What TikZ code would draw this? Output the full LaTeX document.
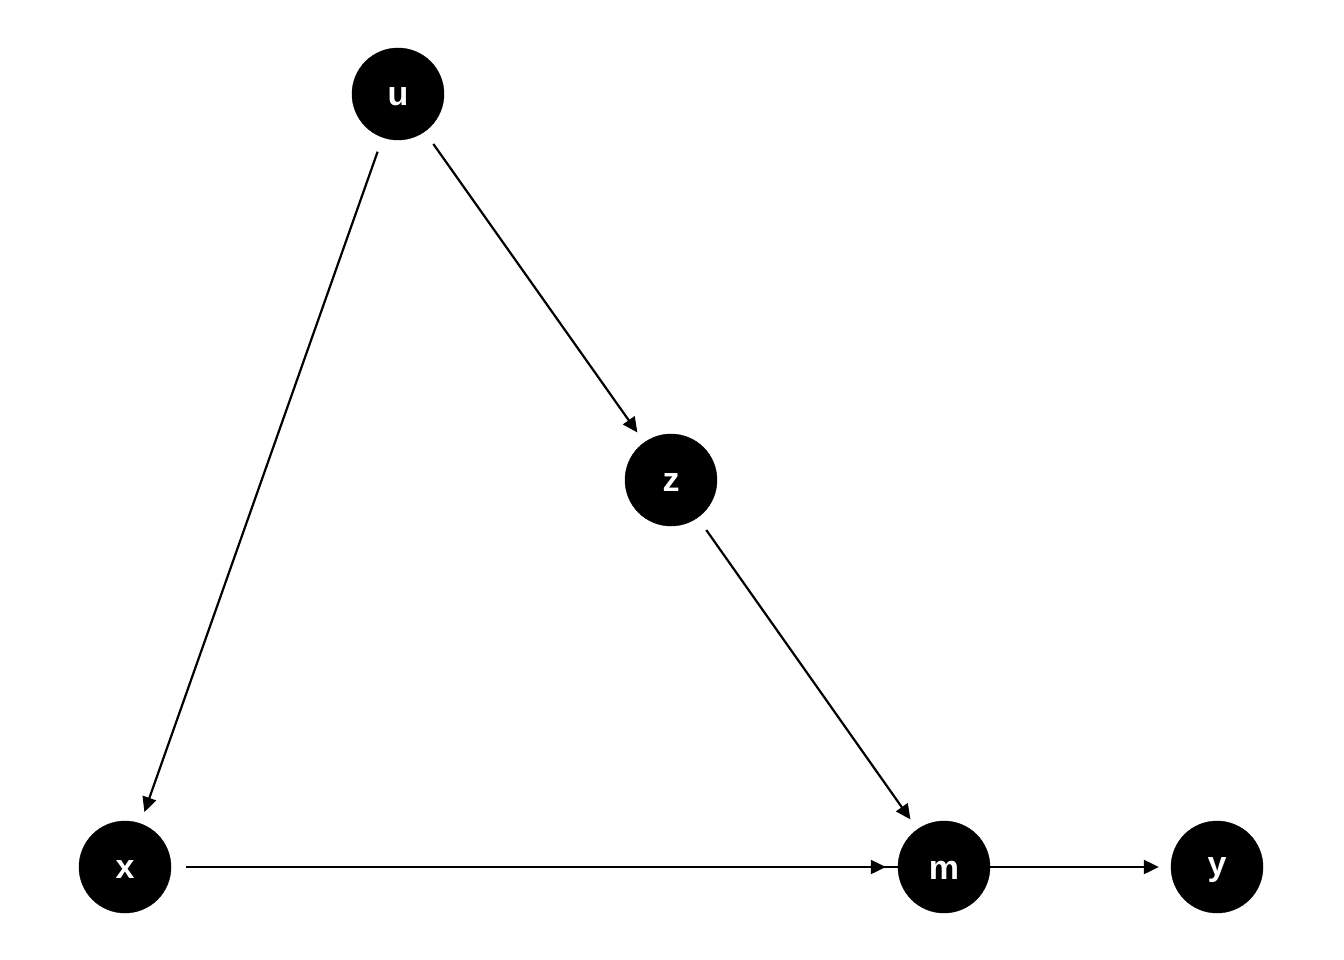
\documentclass[tikz,border=0pt]{standalone}
\usepackage{fontspec}
\setmainfont{Liberation Sans}
\usetikzlibrary{arrows.meta}
\begin{document}
\begin{tikzpicture}[x=1pt,y=-1pt,
  dagnode/.style={circle,fill=black,draw=black,inner sep=0pt,minimum size=92pt},
  lbl/.style={text=white,inner sep=0pt,font=\fontsize{34}{36}\selectfont\bfseries},
  edge/.style={line width=2.2pt,-{Triangle[length=15pt,width=14pt]},shorten <=15pt,shorten >=12pt},
  plain/.style={line width=2.2pt,shorten <=15pt}]
\useasboundingbox (0,0) rectangle (1344,960);
\fill[white] (0,0) rectangle (1344,960);
\node[dagnode] (u) at (398,94) {};
\node[dagnode] (z) at (671,480) {};
\node[dagnode] (x) at (125,867) {};
\node[dagnode] (m) at (944,867) {};
\node[dagnode] (y) at (1217,867) {};
\node[lbl] (lu) at ([yshift=-3pt]u.center) {u};
\node[lbl] (lz) at ([yshift=-3pt]z.center) {z};
\node[lbl] (lx) at ([yshift=-3pt]x.center) {x};
\node[lbl] (lm) at ([yshift=-3pt]m.center) {m};
\node[lbl] (ly) at ([yshift=-3pt]y.center) {y};
\draw[plain] (x) -- (m);
\draw[edge] (u) -- (x);
\draw[edge] (u) -- (z);
\draw[edge] (z) -- (m);
\draw[edge] (x) -- (m);
\draw[edge,shorten <=0pt] (m) -- (y);
\end{tikzpicture}
\end{document}
